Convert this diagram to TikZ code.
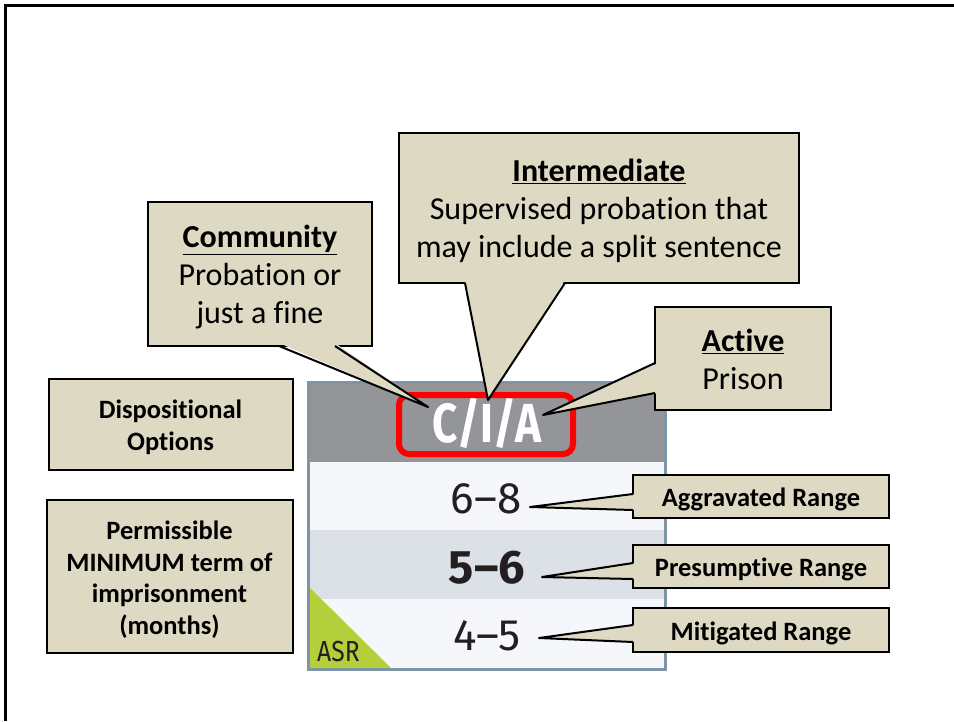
\documentclass[tikz,border=0pt]{standalone}
\usepackage{fontspec}
\setmainfont[Ligatures={NoCommon}]{Carlito}
\newfontfamily\tabfont{Fira Sans}
\definecolor{tanc}{HTML}{DDD9C3}
\definecolor{hdrgray}{HTML}{939598}
\definecolor{rowlight}{HTML}{F5F7FA}
\definecolor{rowdark}{HTML}{DCE1E8}
\definecolor{tblborder}{HTML}{7F95A6}
\definecolor{asrgreen}{HTML}{B5CF3A}
\definecolor{numcol}{HTML}{231F20}
\tikzset{
  callout/.style={draw=black, line width=2pt, fill=tanc, inner sep=0pt},
  ctext/.style={align=center, inner sep=0pt, yshift=-3pt},
  bigtext/.style={font=\fontsize{32}{38}\selectfont},
  smalltext/.style={font=\bfseries\fontsize{26.5}{31.5}\selectfont},
  ptrfill/.style={fill=tanc},
  ptrline/.style={draw=black, line width=2pt, line join=round},
  numtext/.style={anchor=base, inner sep=0pt, text=numcol, font=\tabfont\fontsize{44}{44}\selectfont},
}
\begin{document}
\begin{tikzpicture}[x=1pt,y=-1pt]
\useasboundingbox (0,0) rectangle (954,721);
\fill[white] (0,0) rectangle (954,721);
% outer frame
\draw[line width=3pt] (5.5,721) -- (5.5,5.5) -- (954,5.5);

% table
\fill[hdrgray] (308,382) rectangle (665,462);
\fill[rowlight] (308,462) rectangle (665,530);
\fill[rowdark] (308,530) rectangle (665,599);
\fill[rowlight] (308,599) rectangle (665,669);
\fill[asrgreen] (309,587) -- (392,669) -- (309,669) -- cycle;
\draw[tblborder, line width=3pt] (308,382) rectangle (665,669);
\node[anchor=base, inner sep=0pt, text=white, font=\tabfont\bfseries\fontsize{55}{55}\selectfont] (cia) at (487,442) {\scalebox{0.8}[1]{C/I/A}};
\draw[red, line width=6pt, rounded corners=10pt] (399,395) rectangle (573,454);
\node[numtext] (v68) at (486,513) {6–8};
\node[numtext, font=\tabfont\bfseries\fontsize{47}{47}\selectfont] (v56) at (487,583) {5–6};
\node[numtext] (v45) at (487,650) {4–5};
\node[anchor=base west, inner sep=0pt, text=numcol, font=\tabfont\fontsize{29}{29}\selectfont] (asr) at (317,661) {\scalebox{0.85}[1]{ASR}};

% tips
\coordinate (tipC) at (428,407);
\coordinate (tipI) at (488,400);
\coordinate (tipA) at (543,415);
\coordinate (tipAg) at (530,507);
\coordinate (tipP) at (542,577);
\coordinate (tipM) at (539,638);

% left boxes
\node[callout, minimum width=244, minimum height=91] (disp) at (170.5,424.5) {};
\node[ctext, smalltext] (dispt) at (disp.center) {Dispositional\\Options};
\node[callout, minimum width=246, minimum height=153] (perm) at (169.5,576.5) {};
\node[ctext, smalltext] (permt) at (perm.center) {Permissible\\MINIMUM term of\\imprisonment\\(months)};

% Community
\node[callout, minimum width=224, minimum height=144] (comm) at (260,274) {};
\fill[ptrfill] (279,343) -- (tipC) -- (335,343) -- cycle;
\draw[ptrline] (279,346) -- (tipC) -- (335,346);
\node[ctext, bigtext] (commt) at (comm.center) {\textbf{\underline{Community}}\\Probation or\\just a fine};

% Intermediate
\node[callout, minimum width=400, minimum height=150] (inter) at (599,208) {};
\fill[ptrfill] (465,280) -- (tipI) -- (565,280) -- cycle;
\draw[ptrline] (465,283) -- (tipI) -- (565,283);
\node[ctext, bigtext] (intert) at (inter.center) {\textbf{\underline{Intermediate}}\\Supervised probation that\\may include a split sentence};

% Active
\node[callout, minimum width=176, minimum height=103] (act) at (743,358.5) {};
\fill[ptrfill] (658,363) -- (tipA) -- (658,393) -- cycle;
\draw[ptrline] (655,363) -- (tipA) -- (655,393);
\node[ctext, bigtext, yshift=2pt] (actt) at (act.center) {\textbf{\underline{Active}}\\Prison};

% Aggravated
\node[callout, minimum width=256, minimum height=43] (agg) at (761,496.5) {};
\fill[ptrfill] (636,494) -- (tipAg) -- (636,510) -- cycle;
\draw[ptrline] (633,494) -- (tipAg) -- (633,510);
\node[ctext, smalltext] (aggt) at (agg.center) {Aggravated Range};

% Presumptive
\node[callout, minimum width=256, minimum height=43] (pres) at (761,566.5) {};
\fill[ptrfill] (636,563) -- (tipP) -- (636,579) -- cycle;
\draw[ptrline] (633,563) -- (tipP) -- (633,579);
\node[ctext, smalltext] (prest) at (pres.center) {Presumptive Range};

% Mitigated
\node[callout, minimum width=256, minimum height=44] (mit) at (761,630) {};
\fill[ptrfill] (636,625) -- (tipM) -- (636,642) -- cycle;
\draw[ptrline] (633,625) -- (tipM) -- (633,642);
\node[ctext, smalltext] (mitt) at (mit.center) {Mitigated Range};
\end{tikzpicture}
\end{document}
